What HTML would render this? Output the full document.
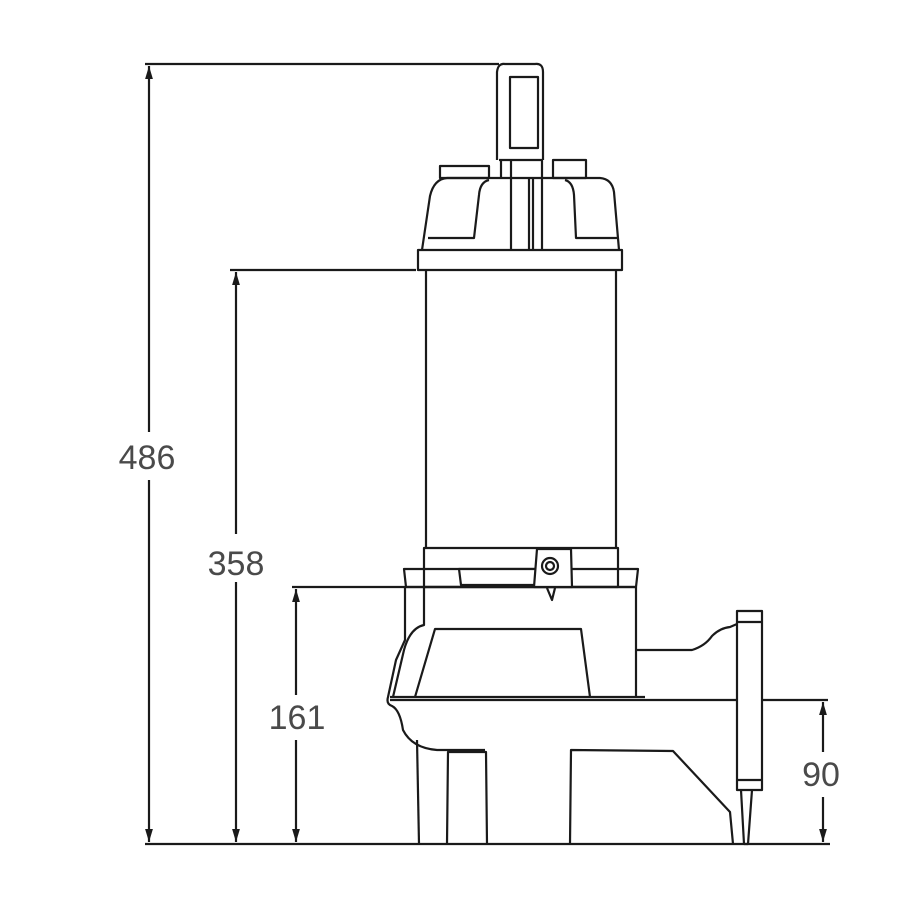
<!DOCTYPE html>
<html><head><style>html,body{margin:0;padding:0;background:#fff}svg{display:block}</style></head>
<body>
<svg width="920" height="920" viewBox="0 0 920 920" xmlns="http://www.w3.org/2000/svg">
<defs>
<marker id="a" viewBox="0 0 10 10" refX="10" refY="5" markerWidth="6" markerHeight="8" orient="auto-start-reverse"><path d="M0,2 L10,5 L0,8 z" fill="#1a1a1a"/></marker>
</defs>
<g stroke="#1a1a1a" stroke-width="2.2" fill="none" stroke-linejoin="round">
<!-- dimension extension lines -->
<line x1="145" y1="64" x2="499" y2="64"/>
<line x1="230" y1="270" x2="416" y2="270"/>
<line x1="292" y1="587" x2="637" y2="587"/>
<line x1="762" y1="700" x2="828" y2="700"/>
<line x1="145" y1="844" x2="830" y2="844"/>
<!-- dimension verticals -->
<line x1="149" y1="66" x2="149" y2="432" marker-start="url(#a)"/>
<line x1="149" y1="480" x2="149" y2="842" marker-end="url(#a)"/>
<line x1="236" y1="272" x2="236" y2="534" marker-start="url(#a)"/>
<line x1="236" y1="582" x2="236" y2="842" marker-end="url(#a)"/>
<line x1="296" y1="589" x2="296" y2="695" marker-start="url(#a)"/>
<line x1="296" y1="740" x2="296" y2="842" marker-end="url(#a)"/>
<line x1="823" y1="702" x2="823" y2="752" marker-start="url(#a)"/>
<line x1="823" y1="797" x2="823" y2="842" marker-end="url(#a)"/>
<!-- handle -->
<path d="M497,160 L497,72 Q498,63 505,64 L535,64 Q543,63 543,72 L543,160"/>
<rect x="510" y="77" width="28" height="71"/>
<line x1="499" y1="160" x2="542" y2="160"/>
<line x1="501" y1="160" x2="501" y2="178"/>
<line x1="511" y1="160" x2="511" y2="250"/>
<line x1="529" y1="178" x2="529" y2="250"/>
<line x1="533" y1="178" x2="533" y2="250"/>
<line x1="542" y1="160" x2="542" y2="250"/>
<!-- cap -->
<path d="M422,250 L430,196 Q434,179 447,178 L600,178 Q612,179 614,192 L619,250"/>
<rect x="440" y="166" width="49" height="12"/>
<rect x="553" y="160" width="33" height="18"/>
<path d="M489,180 Q480,182 479,195 L474,238 L428,238"/>
<path d="M565,180 Q573,182 574,195 L576,238 L617,238"/>
<rect x="418" y="250" width="204" height="20"/>
<!-- motor -->
<line x1="426" y1="270" x2="426" y2="548"/>
<line x1="616" y1="270" x2="616" y2="548"/>
<!-- lower ring -->
<rect x="424" y="548" width="194" height="39"/>
<path d="M404,569 L638,569 L636,587 L406,587 Z"/>
<path d="M459,569 L537,569 L537,585 L461,585 Z" fill="#fff"/>
<path d="M537,549 L571,549 L572,587 L534,587 Z" fill="#fff"/>
<circle cx="550" cy="566" r="8"/>
<circle cx="550" cy="566" r="4"/>
<path d="M547,588 L552,600 L555,588"/>
<!-- housing -->
<path d="M405,587 L405,640 L396,660 L388,697 Q386,704 392,706 Q400,710 403,730 Q412,748 437,750 L485,750"/>
<path d="M424,587 L424,625 Q410,628 404,650 L393,697"/>
<line x1="636" y1="587" x2="636" y2="697"/>
<path d="M415,697 L435,629 L581,629 L590,697"/>
<line x1="390" y1="697" x2="645" y2="697"/>
<line x1="390" y1="700" x2="737" y2="700"/>
<!-- pipe -->
<path d="M636,650 L692,650 Q705,646 712,636 Q720,628 730,627 L737,624"/>
<rect x="737" y="611" width="25" height="179"/>
<line x1="737" y1="622" x2="762" y2="622"/>
<line x1="737" y1="780" x2="762" y2="780"/>
<path d="M741,790 L744,844 L748,844 L752,790"/>
<!-- legs -->
<line x1="417" y1="740" x2="419" y2="844"/>
<path d="M447,844 L448,752 L486,752 L487,844"/>
<path d="M570,844 L571,750 L673,751 L730,812 L733,844"/>
</g>
<g font-family="Liberation Sans, sans-serif" font-size="34" fill="#4a4a4a" text-anchor="middle">
<text x="147" y="469">486</text>
<text x="236" y="575">358</text>
<text x="297" y="729">161</text>
<text x="821" y="786">90</text>
</g>
</svg>
</body></html>
